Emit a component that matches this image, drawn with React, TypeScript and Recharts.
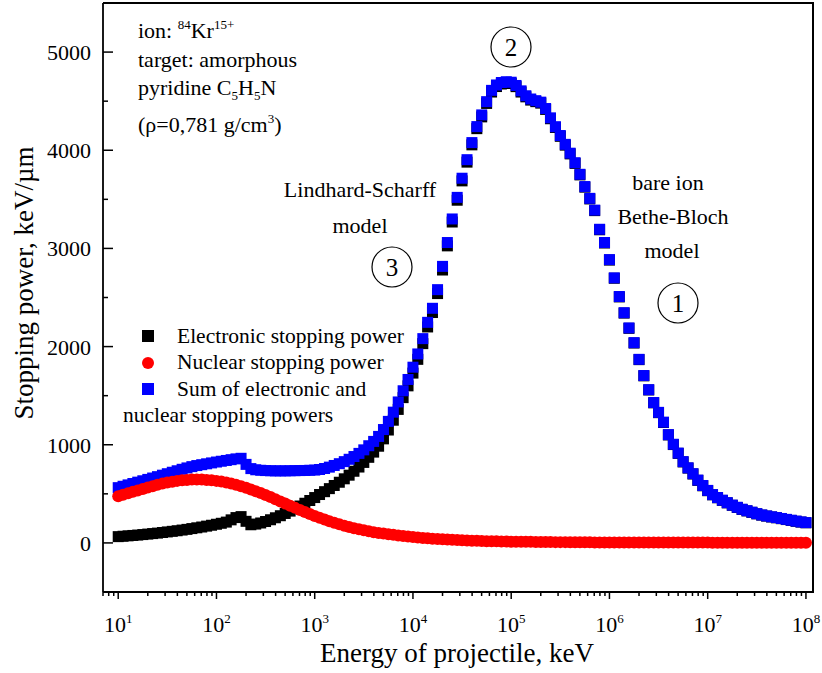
import React from 'react';
import { ScatterChart, Scatter, XAxis, YAxis } from 'recharts';

// projectile energy grid, keV (20 points per decade)
const ENERGY = [
  1.00e1, 1.12e1, 1.26e1, 1.41e1, 1.58e1, 1.78e1, 2.00e1, 2.24e1, 2.51e1, 2.82e1, 3.16e1, 3.55e1, 3.98e1, 4.47e1, 5.01e1, 5.62e1, 6.31e1, 7.08e1, 7.94e1, 8.91e1,
  1.00e2, 1.12e2, 1.26e2, 1.41e2, 1.58e2, 1.78e2, 2.00e2, 2.24e2, 2.51e2, 2.82e2, 3.16e2, 3.55e2, 3.98e2, 4.47e2, 5.01e2, 5.62e2, 6.31e2, 7.08e2, 7.94e2, 8.91e2,
  1.00e3, 1.12e3, 1.26e3, 1.41e3, 1.58e3, 1.78e3, 2.00e3, 2.24e3, 2.51e3, 2.82e3, 3.16e3, 3.55e3, 3.98e3, 4.47e3, 5.01e3, 5.62e3, 6.31e3, 7.08e3, 7.94e3, 8.91e3,
  1.00e4, 1.12e4, 1.26e4, 1.41e4, 1.58e4, 1.78e4, 2.00e4, 2.24e4, 2.51e4, 2.82e4, 3.16e4, 3.55e4, 3.98e4, 4.47e4, 5.01e4, 5.62e4, 6.31e4, 7.08e4, 7.94e4, 8.91e4,
  1.00e5, 1.12e5, 1.26e5, 1.41e5, 1.58e5, 1.78e5, 2.00e5, 2.24e5, 2.51e5, 2.82e5, 3.16e5, 3.55e5, 3.98e5, 4.47e5, 5.01e5, 5.62e5, 6.31e5, 7.08e5, 7.94e5, 8.91e5,
  1.00e6, 1.12e6, 1.26e6, 1.41e6, 1.58e6, 1.78e6, 2.00e6, 2.24e6, 2.51e6, 2.82e6, 3.16e6, 3.55e6, 3.98e6, 4.47e6, 5.01e6, 5.62e6, 6.31e6, 7.08e6, 7.94e6, 8.91e6,
  1.00e7, 1.12e7, 1.26e7, 1.41e7, 1.58e7, 1.78e7, 2.00e7, 2.24e7, 2.51e7, 2.82e7, 3.16e7, 3.55e7, 3.98e7, 4.47e7, 5.01e7, 5.62e7, 6.31e7, 7.08e7, 7.94e7, 8.91e7,
  1.00e8,
];

// electronic stopping power, keV/µm
const ELECTRONIC = [
  64, 68, 72, 76, 80, 85, 90, 95, 100, 106, 112, 118, 124, 131, 138, 146, 154, 162, 171, 180,
  190, 200, 212, 235, 258, 268, 220, 185, 192, 203, 218, 236, 256, 277, 300, 324, 349, 376, 404, 432,
  462, 493, 522, 553, 585, 618, 653, 690, 730, 773, 820, 872, 925, 985, 1060, 1150, 1250, 1360, 1480, 1600,
  1730, 1870, 2030, 2200, 2347, 2540, 2780, 3026, 3269, 3491, 3688, 3879, 4055, 4220, 4340, 4477, 4593, 4649, 4675, 4684,
  4680, 4648, 4593, 4544, 4511, 4495, 4480, 4416, 4321, 4232, 4142, 4052, 3963, 3866, 3749, 3624, 3504, 3385, 3190, 3055,
  2881, 2696, 2506, 2341, 2186, 2036, 1867, 1702, 1558, 1427, 1327, 1227, 1100, 1002, 912, 825, 762, 702, 637, 582,
  532, 490, 460, 433, 408, 383, 361, 341, 326, 311, 296, 283, 273, 264, 256, 247, 238, 229, 220, 212,
  205,
];

// nuclear stopping power, keV/µm
const NUCLEAR = [
  475, 490, 505, 520, 535, 550, 565, 578, 592, 604, 615, 624, 632, 638, 642, 645, 646, 645, 642, 638,
  632, 625, 616, 605, 593, 578, 562, 545, 527, 508, 488, 467, 445, 423, 401, 379, 357, 336, 315, 295,
  275, 256, 238, 221, 205, 190, 176, 163, 150, 139, 128, 118, 109, 101, 95, 88, 82, 76, 70, 65,
  60, 55, 51, 47, 43, 40, 37, 34, 31, 29, 27, 25, 23, 21, 20, 18, 17, 16, 15, 14,
  13, 12, 12, 11, 11, 10, 10, 9, 9, 8, 8, 8, 7, 7, 6, 6, 6, 5, 5, 5,
  5, 4, 4, 4, 4, 4, 3, 3, 3, 3, 3, 3, 3, 3, 3, 3, 3, 3, 3, 3,
  3, 2, 2, 2, 2, 2, 2, 2, 2, 2, 2, 2, 2, 2, 2, 2, 2, 2, 2, 2,
  2,
];

// sum of electronic and nuclear, keV/µm
const TOTAL = [
  563, 577, 591, 605, 619, 633, 647, 661, 675, 690, 705, 720, 735, 750, 764, 777, 788, 797, 806, 815,
  824, 832, 840, 848, 856, 862, 800, 757, 745, 740, 737, 735, 734, 734, 734, 735, 736, 737, 738, 740,
  742, 748, 758, 772, 789, 807, 828, 852, 880, 912, 948, 990, 1034, 1085, 1155, 1238, 1332, 1436, 1550, 1665,
  1790, 1925, 2081, 2247, 2390, 2580, 2817, 3060, 3300, 3520, 3715, 3904, 4078, 4241, 4360, 4495, 4610, 4665, 4690, 4698,
  4693, 4660, 4605, 4555, 4522, 4505, 4490, 4425, 4330, 4240, 4150, 4060, 3970, 3873, 3755, 3630, 3510, 3390, 3195, 3060,
  2886, 2700, 2510, 2345, 2190, 2040, 1870, 1705, 1561, 1430, 1330, 1230, 1103, 1005, 915, 828, 765, 705, 640, 585,
  535, 492, 462, 435, 410, 385, 363, 343, 328, 313, 298, 285, 275, 266, 258, 249, 240, 231, 222, 214,
  207,
];

const X_MAJOR = [1e1, 1e2, 1e3, 1e4, 1e5, 1e6, 1e7, 1e8];
const Y_MAJOR = [0, 1000, 2000, 3000, 4000, 5000];
const Y_MINOR = [500, 1500, 2500, 3500, 4500];
const X_DOMAIN = [7, 1.18e8];
const Y_DOMAIN = [-500, 5500];

const X_TICKS: number[] = [7, 8, 9];
X_MAJOR.forEach((d, i) => {
  X_TICKS.push(d);
  if (i < X_MAJOR.length - 1) for (let m = 2; m <= 9; m++) X_TICKS.push(m * d);
});
const Y_TICKS = [...Y_MAJOR, ...Y_MINOR].sort((a, b) => a - b);

const FONT = "'Liberation Serif', 'Times New Roman', serif";

// plot frame (chart margins + axis sizes below)
const PLOT = { left: 103, top: 3, right: 813, bottom: 592 };

const toPoints = (vals: number[]) => ENERGY.map((e, i) => ({ e, v: vals[i] }));

const XTick = ({ x, y, payload }: any) => {
  const p = Math.log10(payload.value);
  const major = Math.abs(p - Math.round(p)) < 1e-6;
  return (
    <g>
      <line x1={x} y1={y} x2={x} y2={y + (major ? 7 : 4)} stroke="#000" strokeWidth={1.5} />
      {major && (
        <text x={x} y={y + 40} textAnchor="middle" fontFamily={FONT} fontSize={22} fill="#000">
          10<tspan dy={-9} fontSize={13}>{Math.round(p)}</tspan>
        </text>
      )}
    </g>
  );
};

const YTick = ({ x, y, payload }: any) => {
  const major = payload.value % 1000 === 0;
  return (
    <g>
      <line x1={x} y1={y} x2={x + (major ? 10 : 5)} y2={y} stroke="#000" strokeWidth={1.5} />
      {major && (
        <text x={x - 12} y={y + 8} textAnchor="end" fontFamily={FONT} fontSize={22} fill="#000">
          {payload.value}
        </text>
      )}
    </g>
  );
};

const square = (fill: string) => (p: any) => (
  <rect x={p.cx - 5.5} y={p.cy - 5.5} width={11} height={11} fill={fill} />
);
const dot = (p: any) => <circle cx={p.cx} cy={p.cy} r={6} fill="#ff0000" />;

const Circled = ({ x, y, n }: { x: number; y: number; n: string }) => (
  <g>
    <circle cx={x} cy={y} r={20} fill="none" stroke="#000" strokeWidth={1.2} />
    <text x={x} y={y + 9} textAnchor="middle" fontSize={25}>{n}</text>
  </g>
);

export default function App() {
  return (
    <div style={{ position: 'absolute', left: 0, top: 0, width: 822, height: 673, background: '#fff' }}>
      <ScatterChart width={822} height={673} margin={{ top: PLOT.top, right: 822 - PLOT.right, bottom: 0, left: 0 }}>
        <XAxis
          type="number"
          dataKey="e"
          scale="log"
          domain={X_DOMAIN}
          allowDataOverflow
          ticks={X_TICKS}
          interval={0}
          tickSize={0}
          tickMargin={0}
          tickLine={false}
          tick={XTick}
          height={673 - PLOT.bottom}
          axisLine={{ stroke: '#000', strokeWidth: 1.8 }}
        />
        <YAxis
          type="number"
          dataKey="v"
          domain={Y_DOMAIN}
          allowDataOverflow
          ticks={Y_TICKS}
          interval={0}
          tickSize={0}
          tickMargin={0}
          tickLine={false}
          tick={YTick}
          width={PLOT.left}
          axisLine={{ stroke: '#000', strokeWidth: 1.8 }}
        />
        <Scatter data={toPoints(ELECTRONIC)} shape={square('#000000')} isAnimationActive={false} />
        <Scatter data={toPoints(TOTAL)} shape={square('#0000ff')} isAnimationActive={false} />
        <Scatter data={toPoints(NUCLEAR)} shape={dot} isAnimationActive={false} />
      </ScatterChart>

      <svg width={822} height={673} style={{ position: 'absolute', left: 0, top: 0, pointerEvents: 'none' }} fontFamily={FONT}>
        {/* top and right edges of the frame, drawn as filled bars */}
        <rect x={PLOT.left} y={PLOT.top - 1} width={PLOT.right - PLOT.left + 1} height={2} fill="#000000" />
        <rect x={PLOT.right - 1} y={PLOT.top - 1} width={2} height={PLOT.bottom - PLOT.top + 2} fill="#000000" />

        <g fill="#000">
          <text x={457} y={662} textAnchor="middle" fontSize={27}>Energy of projectile, keV</text>
          <text transform="translate(33,283) rotate(-90)" textAnchor="middle" fontSize={27}>Stopping power, keV/µm</text>

          <g fontSize={22}>
            <text x={138} y={38}>
              ion: <tspan dy={-9} fontSize={13}>84</tspan><tspan dy={9}>Kr</tspan><tspan dy={-9} fontSize={13}>15+</tspan>
            </text>
            <text x={138} y={67}>target: amorphous</text>
            <text x={138} y={95}>
              pyridine C<tspan dy={5} fontSize={13}>5</tspan><tspan dy={-5}>H</tspan><tspan dy={5} fontSize={13}>5</tspan><tspan dy={-5}>N</tspan>
            </text>
            <text x={138} y={132}>
              (ρ=0,781 g/cm<tspan dy={-9} fontSize={13}>3</tspan><tspan dy={9}>)</tspan>
            </text>

            <text x={360} y={197} textAnchor="middle">Lindhard-Scharff</text>
            <text x={360} y={233} textAnchor="middle">model</text>
            <text x={668} y={190} textAnchor="middle">bare ion</text>
            <text x={673} y={224} textAnchor="middle">Bethe-Bloch</text>
            <text x={672} y={258} textAnchor="middle">model</text>
          </g>

          <Circled x={511} y={47} n="2" />
          <Circled x={392} y={267} n="3" />
          <Circled x={678} y={303} n="1" />

          <g fontSize={21.5}>
            <rect x={142} y={330} width={12} height={12} fill="#000" />
            <text x={177} y={343}>Electronic stopping power</text>
            <circle cx={148} cy={363} r={6} fill="#ff0000" />
            <text x={177} y={369}>Nuclear stopping power</text>
            <rect x={142} y={383} width={12} height={12} fill="#0000ff" />
            <text x={177} y={396}>Sum of electronic and</text>
            <text x={123} y={422}>nuclear stopping powers</text>
          </g>
        </g>
      </svg>
    </div>
  );
}
